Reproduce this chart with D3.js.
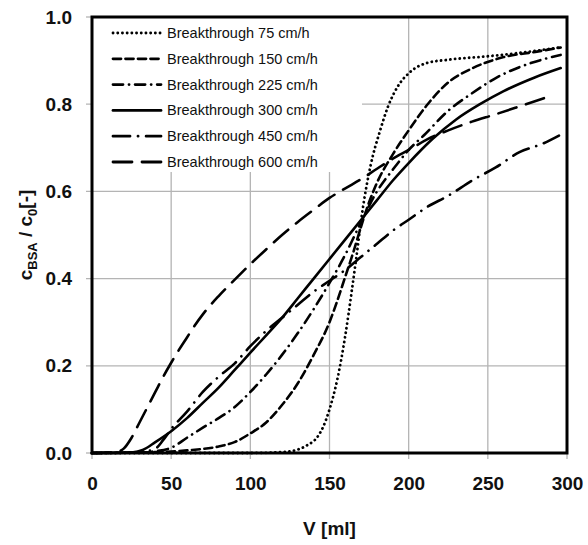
<!DOCTYPE html>
<html>
<head>
<meta charset="utf-8">
<script src="https://cdn.jsdelivr.net/npm/d3@7"></script>
<style>
  body { margin: 0; background: #fff; }
  text { font-family: "Liberation Sans", Arial, sans-serif; }
</style>
</head>
<body>
<div id="chart"></div>
<script>
// Breakthrough curves, c/c0 against volume, one array per flow rate
let seriesNames = ["Breakthrough 75 cm/h", "Breakthrough 150 cm/h", "Breakthrough 225 cm/h",
                   "Breakthrough 300 cm/h", "Breakthrough 450 cm/h", "Breakthrough 600 cm/h"];

let bt75 = [[0,0],[100,0],[120,0.002],[130,0.008],[136,0.018],[142,0.035],[146,0.06],[150,0.1],[155,0.17],
  [160,0.27],[164,0.37],[167,0.45],[171,0.56],[176,0.66],[182,0.74],[187,0.795],[193,0.84],[201,0.874],
  [212,0.895],[225,0.902],[250,0.91],[275,0.92],[295,0.93]];
let bt150 = [[0,0],[40,0.002],[60,0.006],[80,0.015],[90,0.025],[100,0.045],[110,0.07],[120,0.11],[130,0.16],
  [140,0.225],[150,0.3],[155,0.35],[160,0.405],[165,0.46],[170,0.52],[175,0.575],[180,0.62],[190,0.685],
  [200,0.74],[212,0.8],[225,0.85],[240,0.882],[260,0.908],[280,0.92],[296,0.93]];
let bt225 = [[0,0],[30,0.001],[40,0.004],[50,0.012],[60,0.035],[70,0.058],[80,0.08],[90,0.105],[100,0.14],
  [110,0.18],[120,0.225],[130,0.275],[140,0.33],[150,0.39],[160,0.455],[170,0.53],[180,0.6],[190,0.65],
  [200,0.695],[210,0.73],[225,0.785],[240,0.825],[255,0.86],[270,0.885],[285,0.903],[296,0.913]];
let bt300 = [[0,0],[25,0.001],[32,0.007],[40,0.025],[50,0.05],[60,0.08],[70,0.115],[80,0.15],[90,0.19],
  [100,0.23],[110,0.27],[120,0.31],[130,0.355],[140,0.4],[150,0.445],[160,0.49],[170,0.535],[180,0.58],
  [190,0.625],[200,0.665],[215,0.72],[230,0.765],[245,0.8],[260,0.83],[280,0.862],[296,0.883]];
let bt450 = [[0,0],[30,0.002],[40,0.01],[45,0.03],[50,0.055],[60,0.095],[70,0.14],[80,0.175],[90,0.205],
  [100,0.245],[110,0.28],[120,0.31],[130,0.34],[140,0.37],[150,0.395],[160,0.42],[170,0.45],[180,0.48],
  [190,0.51],[200,0.535],[212,0.565],[225,0.59],[240,0.625],[255,0.655],[270,0.69],[285,0.71],[296,0.73]];
let bt600 = [[0,0],[15,0.002],[20,0.01],[25,0.035],[30,0.07],[35,0.105],[40,0.14],[45,0.175],[50,0.207],
  [55,0.237],[60,0.265],[65,0.293],[70,0.318],[80,0.36],[90,0.397],[100,0.433],[110,0.467],[120,0.5],
  [130,0.53],[140,0.558],[150,0.585],[160,0.607],[170,0.628],[180,0.652],[190,0.675],[200,0.695],
  [212,0.72],[225,0.74],[240,0.76],[255,0.777],[270,0.795],[288,0.817]];

let xTicks = [0, 50, 100, 150, 200, 250, 300];
let yTicks = [0, 0.2, 0.4, 0.6, 0.8, 1.0];

let allSeries = [bt75, bt150, bt225, bt300, bt450, bt600];
// dash patterns, same order as the series
let dashes = ["0.1,4.6", "8,4.5", "10,6,0.1,6", null, "17,8,0.1,8", "19,10"];

let margins = {top: 17, right: 21, left: 92, bottom: 92};
let width = 588 - margins.left - margins.right;
let height = 545 - margins.top - margins.bottom;

let svg = d3.select("#chart")
    .append("svg")
    .attr("width", 588)
    .attr("height", 545)
    .append("g")
    .attr("transform", "translate(" + margins.left + "," + margins.top + ")");

let x = d3.scaleLinear().domain([0, 300]).range([0, width]);
let y = d3.scaleLinear().domain([0, 1]).range([height, 0]);

// grid lines
svg.selectAll(".vgrid").data(xTicks.slice(1, -1)).enter().append("line")
    .attr("x1", d => x(d)).attr("x2", d => x(d))
    .attr("y1", 0).attr("y2", height + 6)
    .attr("stroke", "#b4b4b4").attr("stroke-width", 1.3);
svg.selectAll(".hgrid").data(yTicks.slice(1, -1)).enter().append("line")
    .attr("x1", -6).attr("x2", width)
    .attr("y1", d => y(d)).attr("y2", d => y(d))
    .attr("stroke", "#b4b4b4").attr("stroke-width", 1.3);
// small outside ticks at the ends
svg.selectAll(".xend").data([0, 300]).enter().append("line")
    .attr("x1", d => x(d)).attr("x2", d => x(d))
    .attr("y1", height).attr("y2", height + 6)
    .attr("stroke", "#b4b4b4").attr("stroke-width", 1.3);
svg.selectAll(".yend").data([0, 1]).enter().append("line")
    .attr("x1", -6).attr("x2", 0)
    .attr("y1", d => y(d)).attr("y2", d => y(d))
    .attr("stroke", "#b4b4b4").attr("stroke-width", 1.3);

// axes (labels only, ticks drawn above)
let xAxis = svg.append("g")
    .attr("transform", "translate(0," + height + ")")
    .call(d3.axisBottom(x).tickValues(xTicks).tickSize(0).tickPadding(20).tickFormat(d3.format("d")));
let yAxis = svg.append("g")
    .call(d3.axisLeft(y).tickValues(yTicks).tickSize(0).tickPadding(20).tickFormat(d3.format(".1f")));
[xAxis, yAxis].forEach(function(a) {
    a.select(".domain").remove();
    a.selectAll("text")
        .style("font-family", "'Liberation Sans', Arial, sans-serif")
        .style("font-size", "19px")
        .style("font-weight", "bold")
        .attr("fill", "#111");
});
xAxis.selectAll("text").attr("dy", "0.9em");

// legend background hides the grid behind it
svg.append("rect")
    .attr("x", 0).attr("y", 0)
    .attr("width", 270).attr("height", 155)
    .attr("fill", "#fff");

// curves
let line = d3.line()
    .x(d => x(d[0]))
    .y(d => y(d[1]))
    .curve(d3.curveMonotoneX);

allSeries.forEach(function(s, i) {
    svg.append("path")
        .datum(s)
        .attr("d", line)
        .attr("fill", "none")
        .attr("stroke", "#000")
        .attr("stroke-width", i === 0 ? 2.8 : 2.6)
        .attr("stroke-linecap", "round")
        .attr("stroke-dasharray", dashes[i]);
});

// legend
let legend = svg.append("g");
seriesNames.forEach(function(name, i) {
    let ly = 16 + i * 25.8;
    legend.append("line")
        .attr("x1", 21).attr("x2", 69)
        .attr("y1", ly).attr("y2", ly)
        .attr("stroke", "#000")
        .attr("stroke-width", 2.8)
        .attr("stroke-linecap", "round")
        .attr("stroke-dasharray", dashes[i]);
    legend.append("text")
        .attr("x", 75).attr("y", ly)
        .attr("dy", "0.35em")
        .style("font-size", "14.5px")
        .attr("fill", "#111")
        .text(name);
});

// frame
svg.append("rect")
    .attr("x", 0).attr("y", 0)
    .attr("width", width).attr("height", height)
    .attr("fill", "none")
    .attr("stroke", "#000")
    .attr("stroke-width", 3);

// axis titles
svg.append("text")
    .attr("x", width / 2).attr("y", height + 82)
    .attr("text-anchor", "middle")
    .style("font-size", "19px").style("font-weight", "bold")
    .attr("fill", "#111")
    .text("V [ml]");

let yt = svg.append("text")
    .attr("transform", "translate(-60," + (height / 2) + ") rotate(-90)")
    .attr("text-anchor", "middle")
    .style("font-size", "19px").style("font-weight", "bold")
    .attr("fill", "#111");
yt.append("tspan").text("c");
yt.append("tspan").attr("dy", 5).style("font-size", "13px").text("BSA");
yt.append("tspan").attr("dy", -5).text(" / c");
yt.append("tspan").attr("dy", 5).style("font-size", "13px").text("0");
yt.append("tspan").attr("dy", -5).text("[-]");
</script>
</body>
</html>
